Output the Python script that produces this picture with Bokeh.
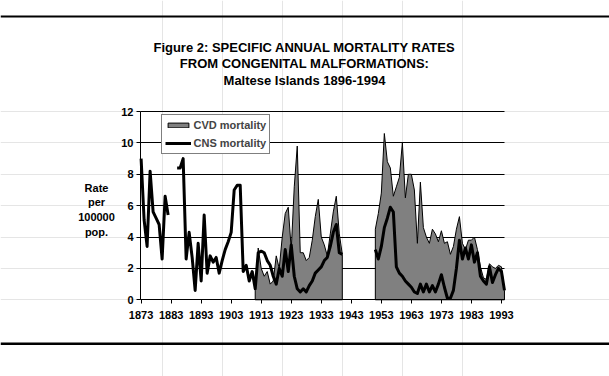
import math
from bokeh.plotting import figure
from bokeh.models import (FixedTicker, Legend, LegendItem, Label, BoxAnnotation,
                          LinearAxis, Grid)
from bokeh.embed import file_html
from bokeh.resources import INLINE

NaN = float("nan")

years = list(range(1873, 1995))

cns = ([9.0, 5.1, 3.4, 8.2, 5.6, 5.2, 4.8, 2.6, 6.6, 5.4]            # 1873-1882
       + [NaN, NaN]                                                  # 1883-1884
       + [8.4, 8.4, 9.0, 2.6, 4.3, 2.7, 0.6, 3.6, 1.2, 5.4,           # 1885-1894
          1.7, 2.8, 2.4, 2.7, 1.7, 2.5, 3.2, 3.7, 4.3, 7.0,           # 1895-1904
          7.3, 7.3, 1.8, 2.2, 1.2, 1.8, 0.7, 3.0, 3.1, 3.0,           # 1905-1914
          2.5, 2.2, 1.5, 1.0, 2.0, 1.5, 3.2, 1.8, 3.5, 1.5,           # 1915-1924
          0.7, 0.5, 0.7, 0.5, 0.9, 1.2, 1.7, 1.9, 2.1, 2.5,           # 1925-1934
          2.7, 3.4, 4.3, 4.8, 3.0, 2.9]                               # 1935-1940
       + [NaN] * 10                                                  # 1941-1950
       + [3.2, 2.6, 3.4, 4.6, 5.2, 5.9, 5.6, 2.1, 1.7, 1.5,           # 1951-1960
          1.2, 1.0, 0.8, 0.5, 0.4, 1.0, 0.5, 1.0, 0.5, 0.9,           # 1961-1970
          0.5, 1.0, 1.6, 0.8, 0.1, 0.1, 0.6, 2.0, 3.8, 2.6,           # 1971-1980
          3.3, 2.6, 3.5, 2.4, 3.0, 1.5, 1.2, 1.0, 2.1, 1.1,           # 1981-1990
          1.6, 2.0, 1.8, 0.6])                                        # 1991-1994

cvd = ([NaN] * 38                                                    # 1873-1910
       + [0.6, 3.3, 2.0, 1.5, 1.8, 1.0, 1.2, 2.8, 2.0, 4.0,           # 1911-1920
          5.5, 5.9, 3.2, 7.2, 9.8, 3.0, 3.0, 2.5, 2.7, 3.8,           # 1921-1930
          5.3, 6.4, 4.0, 3.5, 2.8, 4.2, 5.6, 6.6, 4.2, 2.9]           # 1931-1940
       + [NaN] * 10                                                  # 1941-1950
       + [4.5, 5.5, 6.8, 10.6, 8.8, 8.4, 6.6, 7.2, 7.8, 10.0,         # 1951-1960
          6.5, 8.0, 8.0, 7.0, 3.6, 7.5, 4.6, 4.0, 3.6, 4.5,           # 1961-1970
          4.2, 3.7, 4.4, 3.6, 3.7, 2.9, 3.4, 4.5, 5.3, 3.6,           # 1971-1980
          3.2, 3.8, 3.8, 4.0, 3.2, 2.1, 1.4, 1.3, 2.3, 2.1,           # 1981-1990
          2.0, 2.2, 2.1, 0.6])                                        # 1991-1994

x_ticks = [1873, 1883, 1893, 1903, 1913, 1923, 1933, 1943, 1953, 1963, 1973, 1983, 1993]
y_ticks = [0, 2, 4, 6, 8, 10, 12]

title_lines = ["Figure 2: SPECIFIC ANNUAL MORTALITY RATES",
               "FROM CONGENITAL MALFORMATIONS:",
               "Maltese Islands 1896-1994"]
y_label_lines = ["Rate", "per", "100000", "pop."]
series_names = ["CVD mortality", "CNS mortality"]

FONT = "Liberation Sans"

# ---- layout constants (pixels in the 609x376 canvas, y from top) ----
W, H = 609, 376
X_1873_PX, PX_PER_YEAR = 140.6, 3.003
Y_0_PX, PX_PER_UNIT = 299.3, 15.69
X_AXIS_START, X_AXIS_END = 1872.8, 1994
Y_AXIS_START, Y_AXIS_END = 0, 12

x_start = 1873 - X_1873_PX / PX_PER_YEAR
x_end = x_start + W / PX_PER_YEAR
y_start = -(H - Y_0_PX) / PX_PER_UNIT
y_end = y_start + H / PX_PER_UNIT


def sy(py):
    """canvas y (from top) -> screen y (from bottom)"""
    return H - py


# build filled area segments (break at missing years)
seg_xs, seg_ys = [], []
cur_x, cur_y = [], []
for yr, v in zip(years + [None], cvd + [NaN]):
    if yr is None or math.isnan(v):
        if cur_x:
            seg_xs.append([cur_x[0]] + cur_x + [cur_x[-1]])
            seg_ys.append([0] + cur_y + [0])
            cur_x, cur_y = [], []
    else:
        cur_x.append(yr)
        cur_y.append(v)

p = figure(width=W, height=H, min_border=0,
           x_range=(x_start, x_end), y_range=(y_start, y_end),
           x_axis_location=None, y_axis_location=None,
           output_backend="svg", toolbar_location=None,
           background_fill_color="white", border_fill_color="white",
           outline_line_color=None)

grid = Grid(dimension=1, ticker=FixedTicker(ticks=y_ticks),
            cross_bounds=(X_AXIS_START, X_AXIS_END),
            grid_line_color="black", grid_line_width=1)
p.add_layout(grid)

cvd_r = p.patches(xs=seg_xs, ys=seg_ys, fill_color="#808080",
                  line_color="black", line_width=1)
cns_r = p.line(years, cns, line_color="black", line_width=3,
               line_join="round")

xaxis = LinearAxis(fixed_location=0, bounds=(X_AXIS_START, X_AXIS_END),
                   ticker=FixedTicker(ticks=x_ticks))
yaxis = LinearAxis(fixed_location=X_AXIS_START, bounds=(Y_AXIS_START, Y_AXIS_END),
                   ticker=FixedTicker(ticks=y_ticks))
for ax in (xaxis, yaxis):
    ax.axis_line_color = "black"
    ax.axis_line_width = 1
    ax.major_tick_line_color = "black"
    ax.major_tick_in = 0
    ax.major_tick_out = 4
    ax.minor_tick_line_color = None
    ax.major_label_text_font = FONT
    ax.major_label_text_font_style = "bold"
    ax.major_label_text_font_size = "11px"
    ax.major_label_text_color = "black"
xaxis.major_label_standoff = 7
yaxis.major_label_standoff = 3
p.add_layout(xaxis, "below")
p.add_layout(yaxis, "left")

legend = Legend(items=[LegendItem(label=series_names[0], renderers=[cvd_r]),
                       LegendItem(label=series_names[1], renderers=[cns_r])],
                location=(160.5, sy(154)))
legend.border_line_color = "black"
legend.border_line_width = 1
legend.background_fill_color = "white"
legend.background_fill_alpha = 1
legend.padding = 3
legend.spacing = 4
legend.margin = 0
legend.glyph_width = 26
legend.glyph_height = 6
legend.label_height = 14
legend.label_standoff = 3
legend.label_text_font = FONT
legend.label_text_font_style = "bold"
legend.label_text_font_size = "11px"
p.add_layout(legend)

# title
title_baselines = [47, 63, 80]
for txt, base in zip(title_lines, title_baselines):
    p.add_layout(Label(x=304, y=sy(base), x_units="screen", y_units="screen",
                       text=txt, text_font=FONT, text_font_style="bold",
                       text_font_size="13px", text_align="center",
                       text_baseline="alphabetic", text_color="black"))

label_baselines = [187, 201.7, 216.7, 231]
for txt, base in zip(y_label_lines, label_baselines):
    p.add_layout(Label(x=96, y=sy(base), x_units="screen", y_units="screen",
                       text=txt, text_font=FONT, text_font_style="bold",
                       text_font_size="11px", text_align="center",
                       text_baseline="alphabetic", text_color="black"))

# horizontal page rules
for top, bottom in ((15, 17), (342, 344.5)):
    p.add_layout(BoxAnnotation(left=0, right=W, top=sy(top), bottom=sy(bottom),
                               left_units="screen", right_units="screen",
                               top_units="screen", bottom_units="screen",
                               fill_color="black", fill_alpha=1, line_color=None))

open("out.html", "w").write(file_html(p, INLINE))
